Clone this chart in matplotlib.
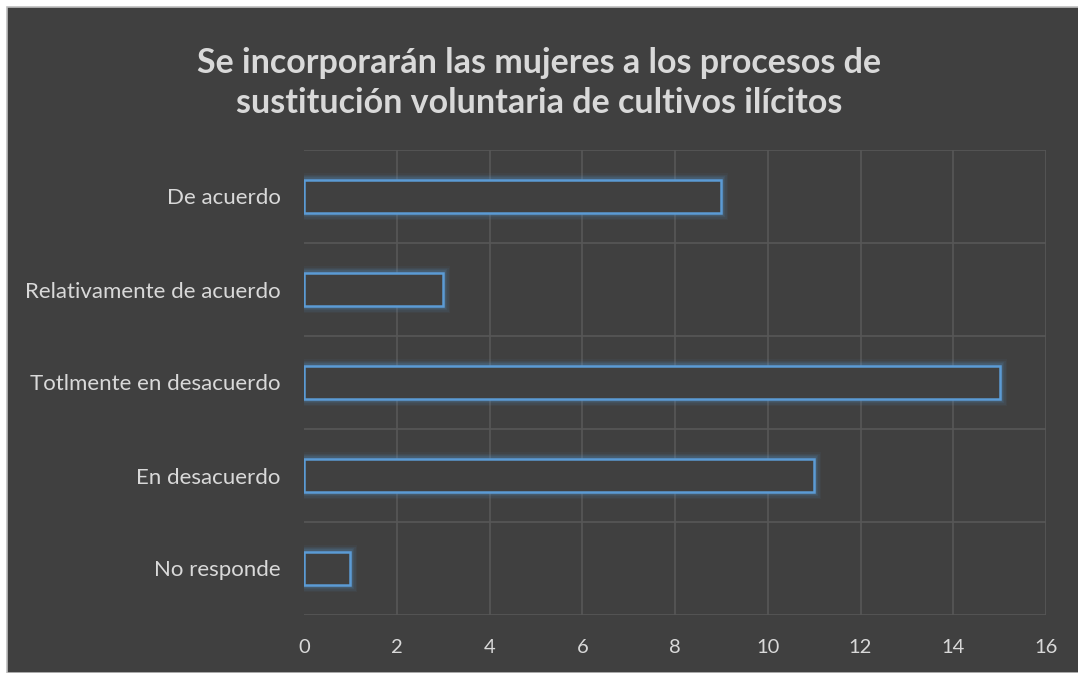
import matplotlib
matplotlib.use("Agg")
import matplotlib.pyplot as plt
from matplotlib.patches import Rectangle
import numpy as np

categorias = ["De acuerdo", "Relativamente de acuerdo", "Totlmente en desacuerdo",
              "En desacuerdo", "No responde"]
valores = [9, 3, 15, 11, 1]
x_ticks = [0, 2, 4, 6, 8, 10, 12, 14, 16]
titulo = "Se incorporarán las mujeres a los procesos de\nsustitución voluntaria de cultivos ilícitos"

plt.rcParams['font.family'] = ['Lato', 'DejaVu Sans']

fondo = "#404040"
texto = "#d9d9d9"
rejilla = "#575757"
azul = "#5b9bd5"

fig = plt.figure(figsize=(10.78, 6.73), dpi=100)
fig.patch.set_facecolor("white")
# dark chart area with a thin light frame on left/top
fig.patches.append(Rectangle((7 / 1078, 0), 1, 1 - 7 / 673, transform=fig.transFigure,
                             facecolor=fondo, edgecolor="#bfbfbf", linewidth=1.2, zorder=-10))

ax = fig.add_axes([304 / 1078, 58 / 673, 742 / 1078, 465 / 673])
ax.set_facecolor(fondo)

y = np.arange(len(categorias))
alto = 0.35

# glow around the bars
for lw, a in [(10, 0.05), (8, 0.07), (6, 0.1), (4, 0.16)]:
    ax.barh(y, valores, height=alto, facecolor="none", edgecolor=azul,
            linewidth=lw, alpha=a, zorder=3)
ax.barh(y, valores, height=alto, facecolor=fondo, edgecolor=azul, linewidth=1.8, zorder=4)

ax.set_xlim(0, 16)
ax.set_ylim(len(categorias) - 0.5, -0.5)
ax.set_xticks(x_ticks)
ax.set_yticks(y)
ax.set_yticklabels(categorias)

for v in x_ticks[1:]:
    ax.axvline(v, color=rejilla, linewidth=1.2, zorder=1)
for b in np.arange(-0.5, len(categorias), 1.0):
    ax.axhline(b, color=rejilla, linewidth=1.2, zorder=1)

for s in ax.spines.values():
    s.set_visible(False)

ax.tick_params(axis="both", length=0, colors=texto)
ax.tick_params(axis="x", pad=17, labelsize=14.5)
ax.tick_params(axis="y", pad=17, labelsize=16)

fig.text(539 / 1078, 1 - 83 / 673, titulo, ha="center", va="center", color=texto,
         fontsize=24.5, fontweight="bold", linespacing=1.3)

fig.savefig("out.png", dpi=100, facecolor=fig.get_facecolor())
